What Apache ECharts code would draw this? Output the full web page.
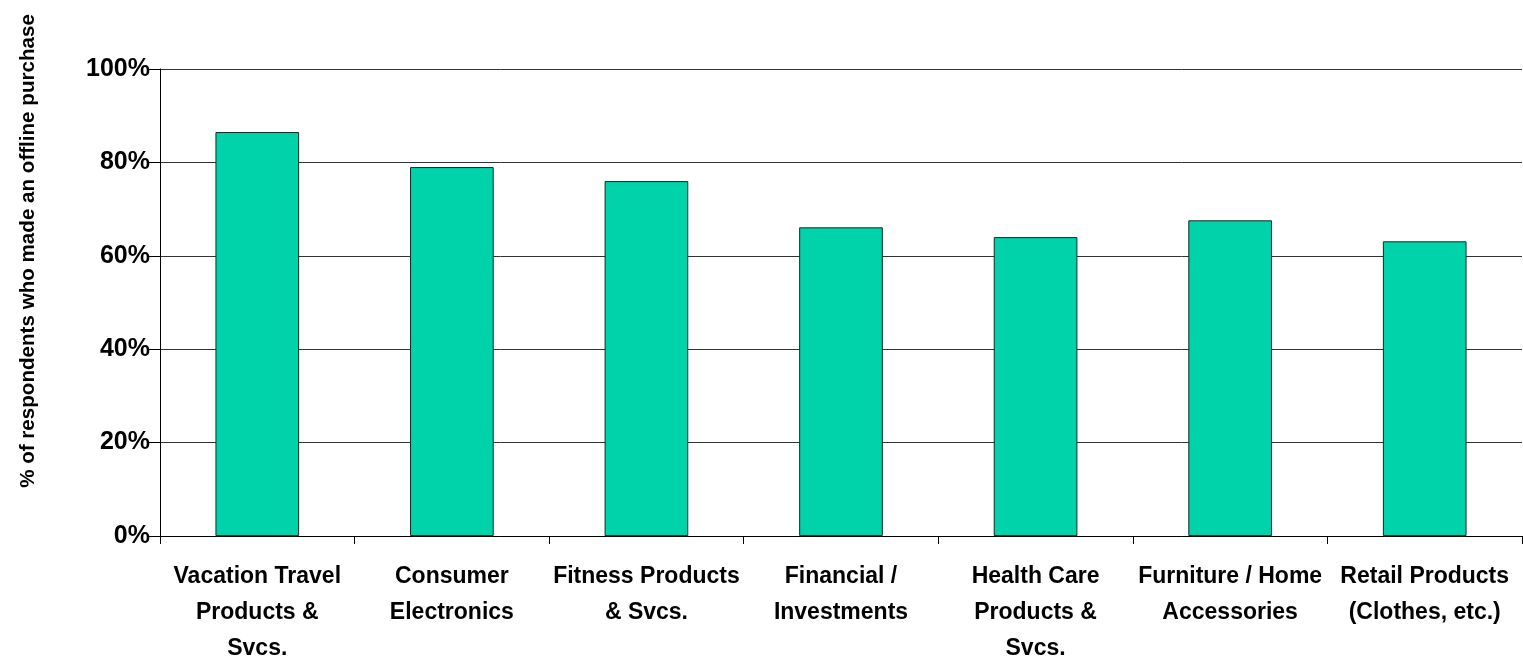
<!DOCTYPE html>
<html>
<head>
<meta charset="utf-8">
<script src="https://cdn.jsdelivr.net/npm/echarts@6/dist/echarts.min.js"></script>
<style>
  html, body { margin: 0; padding: 0; background: #ffffff; }
  #chart { width: 1523px; height: 662px; }
</style>
</head>
<body>
<div id="chart"></div>
<script>
// Product categories and share of respondents who bought offline (%)
const categories = [
  'Vacation Travel\nProducts &\nSvcs.',
  'Consumer\nElectronics',
  'Fitness Products\n& Svcs.',
  'Financial /\nInvestments',
  'Health Care\nProducts &\nSvcs.',
  'Furniture / Home\nAccessories',
  'Retail Products\n(Clothes, etc.)'
];
const offlineShare = [86.5, 79.0, 76.0, 66.1, 64.0, 67.6, 63.1];
const yTitle = '% of respondents who made an offline purchase';

const labelFont = '"Liberation Sans Narrow", "Arial Narrow", "Liberation Sans", Arial, sans-serif';

const chart = echarts.init(document.getElementById('chart'), null, { renderer: 'canvas' });

chart.setOption({
  backgroundColor: '#ffffff',
  animation: false,
  grid: {
    left: 160, right: 1, top: 69, bottom: 126,
    containLabel: false,
    outerBoundsMode: 'none'
  },
  xAxis: {
    type: 'category',
    data: categories,
    boundaryGap: true,
    axisLine: { show: true, lineStyle: { color: '#000000', width: 1 } },
    axisTick: { show: true, alignWithLabel: false, length: 8, lineStyle: { color: '#000000' } },
    axisLabel: {
      interval: 0,
      margin: 23,
      color: '#000000',
      fontFamily: labelFont,
      fontWeight: 'bold',
      fontSize: 23,
      lineHeight: 36,
      align: 'center'
    },
    splitLine: { show: false }
  },
  yAxis: {
    type: 'value',
    min: 0,
    max: 100,
    interval: 20,
    axisLine: { show: true, lineStyle: { color: '#000000', width: 1 } },
    axisTick: { show: true, inside: false, length: 12, lineStyle: { color: '#000000' } },
    axisLabel: {
      formatter: '{value}%',
      margin: 10,
      color: '#000000',
      fontFamily: labelFont,
      fontWeight: 'bold',
      fontSize: 25
    },
    splitLine: { show: true, lineStyle: { color: '#333333', width: 1 } }
  },
  graphic: [{
    type: 'text',
    x: 28,
    y: 251,
    rotation: Math.PI / 2,
    style: {
      text: yTitle,
      fill: '#000000',
      font: 'bold 20.6px "Liberation Sans", Arial, sans-serif',
      textAlign: 'center',
      textVerticalAlign: 'middle'
    }
  }],
  series: [{
    type: 'bar',
    data: offlineShare,
    barWidth: '43%',
    itemStyle: { color: '#00D2AA', borderColor: '#0b2e26', borderWidth: 1 },
    silent: true
  }]
});
</script>
</body>
</html>
